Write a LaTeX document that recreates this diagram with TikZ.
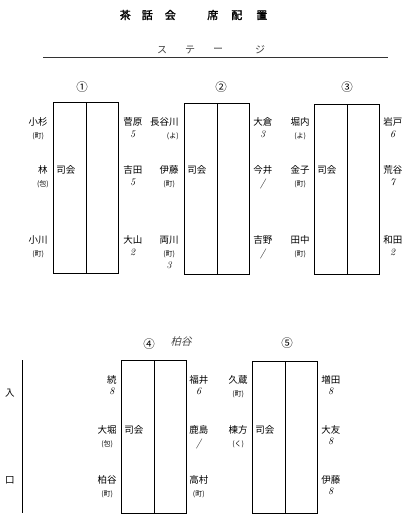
\documentclass[tikz,border=0pt]{standalone}
\usepackage{fontspec}
\newfontfamily\jp{Noto Sans CJK JP}
\newfontfamily\jpbold[FakeBold=1.8]{Noto Sans CJK JP}
\newfontfamily\jphand[FakeSlant=0.25]{Noto Sans CJK JP}
\usetikzlibrary{positioning}
\tikzset{
  lname/.style={anchor=east,inner sep=1pt,font=\jp\fontsize{9.5}{10}\selectfont},
  rname/.style={anchor=west,inner sep=1pt,font=\jp\fontsize{9.5}{10}\selectfont},
  host/.style={anchor=west,inner sep=1pt,font=\jp\fontsize{9.5}{10}\selectfont},
  town/.style={inner sep=1pt,font=\jp\fontsize{7}{7}\selectfont},
  hnum/.style={inner sep=0.5pt,font=\itshape\fontsize{10}{10}\selectfont},
  tableno/.style={inner sep=0pt,font=\jp\fontsize{11.5}{12}\selectfont},
  stagech/.style={inner sep=0pt,text=black!75,font=\jp\fontsize{10}{10}\selectfont}
}
\begin{document}
\begin{tikzpicture}[x=1pt,y=-1pt,line width=0.6pt]
    \useasboundingbox (0,0) rectangle (417,515);
    % title and stage
    \node[anchor=west,inner sep=0pt,font=\jpbold\fontsize{11}{11}\selectfont] (title) at (119.5,15)
      {茶\hspace{11pt}話\hspace{12pt}会\hspace{31.5pt}席\hspace{13pt}配\hspace{14pt}置};
    \foreach \x/\c [count=\i] in {162/ス,190/テ,218/ー,260/ジ}
      \node[stagech] (st\i) at (\x,50) {\c};
    \coordinate (stL) at (43,57);
    \coordinate (stR) at (388,57);
    \draw[black!80] (stL) -- (stR);
    % tables
    \foreach \l/\t/\b in {53/102/273,184/103/274,314/104/274,121/360/513,252/361/513}
    {\draw (\l,\t) rectangle (\l+65,\b);
    \draw (\l+33,\t) -- (\l+33,\b);}
    \node[tableno] (no1) at (82,87) {①};
    \node[tableno] (no2) at (221,87) {②};
    \node[tableno] (no3) at (347,87) {③};
    \node[tableno] (no4) at (149,344) {④};
    \node[tableno] (no5) at (287,343) {⑤};
    \node[inner sep=0pt,text=black!70,font=\jphand\fontsize{10.5}{11}\selectfont] (hand4) at (181,342) {柏谷};
    % table 1
    \node[lname] (a1) at (49,122) {小杉};
    \node[town,below=4pt of a1] (a1t) {(町)};
    \node[lname] (a2) at (49,170) {林};
    \node[town,below=4pt of a2] (a2t) {(包)};
    \node[lname] (a3) at (49,240) {小川};
    \node[town,below=4pt of a3] (a3t) {(町)};
    \node[host] (a0) at (55,170) {司会};
    \node[rname] (a4) at (122,122) {菅原};
    \node[hnum,below=2pt of a4] (a4n) {5};
    \node[rname] (a5) at (122,170) {吉田};
    \node[hnum,below=2pt of a5] (a5n) {5};
    \node[rname] (a6) at (122,240) {大山};
    \node[hnum,below=2pt of a6] (a6n) {2};
    % table 2
    \node[lname] (b1) at (180,122) {長谷川};
    \node[town,below=4pt of b1.south east,anchor=north east] (b1t) {(よ)};
    \node[lname] (b2) at (180,170) {伊藤};
    \node[town,below=4pt of b2] (b2t) {(町)};
    \node[lname] (b3) at (180,240) {両川};
    \node[town,below=4pt of b3] (b3t) {(町)};
    \node[hnum,below=2pt of b3t] (b3n) {3};
    \node[host] (b0) at (186,170) {司会};
    \node[rname] (b4) at (252,122) {大倉};
    \node[hnum,below=2pt of b4] (b4n) {3};
    \node[rname] (b5) at (252,170) {今井};
    \node[hnum,below=2pt of b5] (b5n) {/};
    \node[rname] (b6) at (252,240) {吉野};
    \node[hnum,below=2pt of b6] (b6n) {/};
    % table 3
    \node[lname] (c1) at (311,122) {堀内};
    \node[town,below=4pt of c1] (c1t) {(よ)};
    \node[lname] (c2) at (311,170) {金子};
    \node[town,below=4pt of c2] (c2t) {(町)};
    \node[lname] (c3) at (311,240) {田中};
    \node[town,below=4pt of c3] (c3t) {(町)};
    \node[host] (c0) at (316,170) {司会};
    \node[rname] (c4) at (382,122) {岩戸};
    \node[hnum,below=2pt of c4] (c4n) {6};
    \node[rname] (c5) at (382,170) {荒谷};
    \node[hnum,below=2pt of c5] (c5n) {7};
    \node[rname] (c6) at (382,240) {和田};
    \node[hnum,below=2pt of c6] (c6n) {2};
    % table 4
    \node[lname] (d1) at (118,380) {続};
    \node[hnum,below=1pt of d1] (d1n) {8};
    \node[lname] (d2) at (118,430) {大堀};
    \node[town,below=4pt of d2] (d2t) {(包)};
    \node[lname] (d3) at (118,480) {柏谷};
    \node[town,below=4pt of d3] (d3t) {(町)};
    \node[host] (d0) at (123,430) {司会};
    \node[rname] (d4) at (188,380) {福井};
    \node[hnum,below=1pt of d4] (d4n) {6};
    \node[rname] (d5) at (188,430) {鹿島};
    \node[hnum,below=2pt of d5] (d5n) {/};
    \node[rname] (d6) at (188,480) {高村};
    \node[town,below=4pt of d6] (d6t) {(町)};
    % table 5
    \node[lname] (e1) at (249,380) {久蔵};
    \node[town,below=4pt of e1] (e1t) {(町)};
    \node[lname] (e2) at (249,430) {棟方};
    \node[town,below=4pt of e2] (e2t) {(く)};
    \node[host] (e0) at (254,430) {司会};
    \node[rname] (e4) at (320,380) {増田};
    \node[hnum,below=1pt of e4] (e4n) {8};
    \node[rname] (e5) at (320,430) {大友};
    \node[hnum,below=1pt of e5] (e5n) {8};
    \node[rname] (e6) at (320,480) {伊藤};
    \node[hnum,below=1pt of e6] (e6n) {8};
    % entrance
    \coordinate (inT) at (22,360);
    \coordinate (inB) at (22,513);
    \draw (inT) -- (inB);
    \node[inner sep=0pt,font=\jp\fontsize{9.5}{10}\selectfont] (in1) at (10,393) {入};
    \node[inner sep=0pt,font=\jp\fontsize{9.5}{10}\selectfont] (in2) at (10,480) {口};
\end{tikzpicture}
\end{document}
